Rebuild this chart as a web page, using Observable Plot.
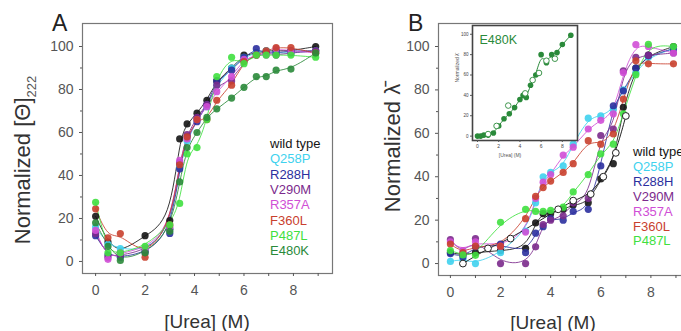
<!DOCTYPE html>
<html><head><meta charset="utf-8">
<script src="https://cdn.jsdelivr.net/npm/d3@7"></script>
<script src="https://cdn.jsdelivr.net/npm/@observablehq/plot@0.6"></script>
<style>
html,body{margin:0;padding:0;background:#fff;overflow:hidden;width:681px;height:331px;font-family:"Liberation Sans",Arial,sans-serif;}
#fig{position:relative;width:681px;height:331px;overflow:hidden;}
#fig > *{position:absolute;}
.t{white-space:nowrap;line-height:1;}
</style></head><body><div id="fig"></div>
<script>
// ---------- data ----------
const series = ["wild type","Q258P","R288H","V290M","R357A","F360L","P487L","E480K"];
const colors = ["#151515","#3fd2ee","#2b2f9e","#7b2a8c","#d04ed6","#c9402e","#3fe03f","#2a8a3a"];
const xTicks = [0,2,4,6,8];
const xMinor = [1,3,5,7,9];
const yTicks = [0,20,40,60,80,100];
const yMinor = [10,30,50,70,90];

// Panel A: CD at 222 nm
const ureaA = [0,0.5,1,2,3,3.4,3.7,4.1,4.5,4.9,5.5,6,6.5,6.9,7.3,7.9,8.9];
const A_wt    = [21,9,4,12,19,57,64,69,75,84,90,96,97,98,98,98,100];
const A_Q258P = [16,8,6,5,15,44,56,66,72,82,90,95,97,98,97,97,98];
const A_R288H = [12,3,2,4,13,43,58,65,73,84,89,95,99,97,97,98,98];
const A_V290M = [13,2,3,5,15,46,59,67,73,82,84,93,96,97,96,97,98];
const A_R357A = [14.5,1,4,6,16,47,57,66,72,79,86,94,96,96,99,98,97];
const A_F360L = [24.5,11,13,2,17,45,58,66,66,75,82,93,96,98,99.5,99.5,97];
const A_P487L = [27.5,4,4,7,17,27,50,53,66,86,95,92,96,96,96,96,95];
const A_E480K = [18,7,0.5,4,14,37,53,60,67,71,76,81,86,86,89,89.5,97];

// Panel B: fluorescence mean wavelength
const ureaB = [0,0.5,1,2,3,3.4,3.7,4,4.5,4.9,5.5,6,6.5,6.9,7.4,7.9,8.9];
const B_wt    = [5,4,5,6,7,18.7,23,23,25,27,28,39,46,72,90,96,100];
const B_Q258P = [1,2,0,5,15,28,40,42,45,55,67,68,71,80,88,95,99];
const B_R288H = [4.6,3,7.7,9,5,14,17,20.7,20,24,25,45,72.7,79.6,90,95.7,99];
const B_V290M = [11,4.6,11.5,0,0,7.7,18,20,22,28,30,59,62,88.8,95,96,97];
const B_R357A = [10,6,10,8,14.5,30,37.5,41,50,53.6,62,66,69,88,100.9,100,97];
const B_F360L = [9,5,8,8,20.7,31,35,38,42,46,56.6,55,59.7,75.8,93.4,92,92];
const B_P487L = [6,4,3.8,19,25,24,24,24.5,26,33,41,50.5,55,69,87,101,100];
// wild type repeat (open circles)
const ureaB_open = [0.5,1.5,2.4,4.3,4.9,5.6,6.1,6.6,7.0];
const B_wt_open  = [0,7,11.5,25,29,32,40,51,68];

// Inset: E480K
const ureaIn = [0,0.3,0.6,1,1.5,2,2.5,3,3.5,4,4.3,4.6,5,5.5,6,6.5,7,7.5,8,8.8];
const In_E480K = [0,0,1,1,3,10,17,22,28,36,40,38,50,60,80,72,80,82,90,99];
const ureaIn_open = [1.0,1.8,2.9,4.5,5.2,5.8,6.5,7.3];
const In_E480K_open = [2,10,30,42,55,62,74,76];

// ---------- build tables ----------
function rows(xs, setList) {
  const out = [];
  setList.forEach(([name, vals]) => vals.forEach((v, j) => { if (v != null) out.push({x: xs[j], y: v, s: name}); }));
  return out;
}
const rowsA = rows(ureaA, [["wild type",A_wt],["Q258P",A_Q258P],["R288H",A_R288H],["V290M",A_V290M],["R357A",A_R357A],["F360L",A_F360L],["P487L",A_P487L],["E480K",A_E480K]]);
const rowsB = rows(ureaB, [["wild type",B_wt],["Q258P",B_Q258P],["R288H",B_R288H],["V290M",B_V290M],["R357A",B_R357A],["F360L",B_F360L],["P487L",B_P487L]]);
const rowsBopen = rows(ureaB_open, [["wild type",B_wt_open]]);
const rowsIn = rows(ureaIn, [["E480K",In_E480K]]);
const rowsInOpen = rows(ureaIn_open, [["E480K",In_E480K_open]]);

const FONT = '"Liberation Sans", Arial, sans-serif';
const fig = document.getElementById("fig");
const colorScale = {domain: series, range: colors};

function axes(fs, ink) {
  return [
    Plot.axisX({ticks: xTicks, tickSize: 3, tickPadding: 9, label: null, fontSize: fs, stroke: ink, color: ink}),
    Plot.axisX({ticks: xMinor, tickSize: 3, tickFormat: () => "", label: null, stroke: ink}),
    Plot.axisY({ticks: yTicks, tickSize: 3, tickPadding: 6, label: null, fontSize: fs, stroke: ink, color: ink}),
    Plot.axisY({ticks: yMinor, tickSize: 2, tickFormat: () => "", label: null, stroke: ink})
  ];
}

// Panel A
const plotA = Plot.plot({
  width: 340, height: 331,
  marginLeft: 82, marginRight: 8, marginTop: 23, marginBottom: 58,
  x: {domain: [-0.53, 9.58]},
  y: {domain: [-5.6, 110.7]},
  color: colorScale,
  style: {fontFamily: FONT, background: "transparent", color: "#333"},
  marks: [
    Plot.frame({stroke: "#777", strokeWidth: 1.2}),
    ...axes(14, "#555"),
    Plot.line(rowsA, {x: "x", y: "y", z: "s", stroke: "s", curve: "basis", strokeWidth: 1, strokeOpacity: 0.85}),
    Plot.dot(rowsA, {x: "x", y: "y", fill: "s", r: 3.6, fillOpacity: 0.9})
  ]
});
plotA.style.left = "0px"; plotA.style.top = "0px";
fig.appendChild(plotA);

// Panel B (right edge cropped by the window)
const plotB = Plot.plot({
  width: 360, height: 331,
  marginLeft: 98, marginRight: 12, marginTop: 23, marginBottom: 56,
  x: {domain: [-0.475, 9.5]},
  y: {domain: [-5.5, 110.6]},
  color: colorScale,
  style: {fontFamily: FONT, background: "transparent", color: "#333"},
  marks: [
    Plot.frame({stroke: "#777", strokeWidth: 1.2}),
    ...axes(14, "#555"),
    Plot.line(rowsB, {x: "x", y: "y", z: "s", stroke: "s", curve: "basis", strokeWidth: 1, strokeOpacity: 0.85}),
    Plot.line(rowsBopen, {x: "x", y: "y", stroke: "#222", curve: "basis", strokeWidth: 1}),
    Plot.dot(rowsB, {x: "x", y: "y", fill: "s", r: 3.6, fillOpacity: 0.9}),
    Plot.dot(rowsBopen, {x: "x", y: "y", fill: "white", stroke: "#222", r: 3.4, strokeWidth: 1})
  ]
});
plotB.style.left = "340px"; plotB.style.top = "0px";
fig.appendChild(plotB);

// Inset
const plotIn = Plot.plot({
  width: 145, height: 150,
  marginLeft: 32, marginRight: 8, marginTop: 10, marginBottom: 25,
  x: {domain: [-0.47, 9.43]},
  y: {domain: [-4.3, 108.6]},
  color: colorScale,
  style: {fontFamily: FONT, background: "transparent", color: "#444"},
  marks: [
    Plot.frame({fill: "white", stroke: "#444", strokeWidth: 1.6}),
    Plot.axisX({ticks: xTicks, tickSize: 2, tickPadding: 2, label: null, fontSize: 5, stroke: "#555"}),
    Plot.axisY({ticks: yTicks, tickSize: 2, tickPadding: 2, label: null, fontSize: 4.5, stroke: "#555"}),
    Plot.line(rowsIn, {x: "x", y: "y", stroke: "s", curve: "basis", strokeWidth: 1}),
    Plot.dot(rowsIn, {x: "x", y: "y", fill: "s", r: 2.8}),
    Plot.dot(rowsInOpen, {x: "x", y: "y", fill: "white", stroke: "s", r: 2.8, strokeWidth: 0.9}),
    Plot.text(["E480K"], {frameAnchor: "top-left", dx: 7, dy: 10, fill: colors[7], fontSize: 12.5})
  ]
});
plotIn.style.left = "440px"; plotIn.style.top = "15px";
fig.appendChild(plotIn);

// ---------- HTML texts ----------
function addText(html, left, top, css) {
  const d = document.createElement("div");
  d.className = "t";
  d.innerHTML = html;
  d.style.left = left + "px"; d.style.top = top + "px";
  d.style.cssText += css || "";
  fig.appendChild(d);
  return d;
}
addText("A", 52, 12, "font-size:23px;color:#222;");
addText("B", 408, 12, "font-size:23px;color:#222;");
addText("[Urea] (M)", 207, 321, "font-size:19px;color:#333;transform:translate(-50%,-50%);");
addText("[Urea] (M)", 553, 322, "font-size:19px;color:#333;transform:translate(-50%,-50%);");
addText('Normalized [&Theta;]<sub style="font-size:13px;color:#555">222</sub>', 25, 160, "font-size:22px;color:#333;transform:translate(-50%,-50%) rotate(-90deg);");
addText('Normalized &lambda;&#772;', 393, 148, "font-size:22px;color:#333;transform:translate(-50%,-50%) rotate(-90deg);");
// inset titles
addText("[Urea] (M)", 510, 155, "font-size:5px;color:#555;transform:translate(-50%,-50%);");
addText('Normalized &lambda;&#772;', 457, 68, "font-size:5px;color:#555;transform:translate(-50%,-50%) rotate(-90deg);");

// legends
const legendA = ["wild type","Q258P","R288H","V290M","R357A","F360L","P487L","E480K"];
const legendB = ["wild type","Q258P","R288H","V290M","R357A","F360L","P487L"];
legendA.forEach((name, i) => {
  addText(name, 270, 143 + i * 15.3, `font-size:13px;color:${colors[series.indexOf(name)]};transform:translateY(-50%);`);
});
legendB.forEach((name, i) => {
  addText(name, 633, 151 + i * 14.9, `font-size:13px;color:${colors[series.indexOf(name)]};transform:translateY(-50%);`);
});
</script></body></html>
